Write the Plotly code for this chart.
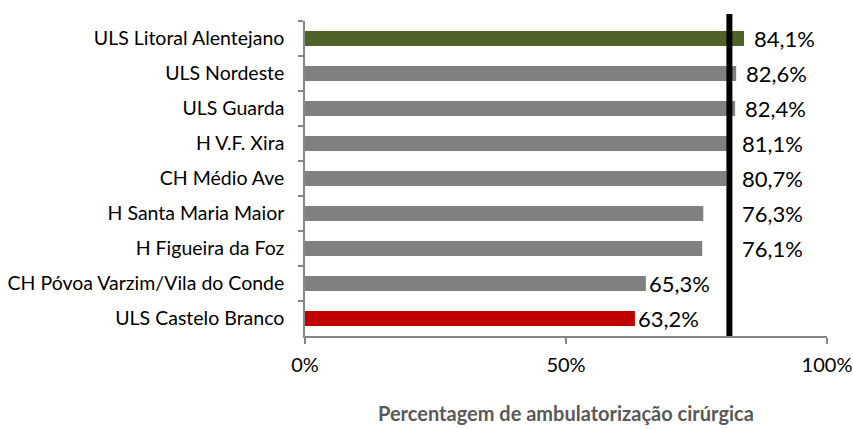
import plotly.graph_objects as go

categories = [
    "ULS Litoral Alentejano",
    "ULS Nordeste",
    "ULS Guarda",
    "H V.F. Xira",
    "CH Médio Ave",
    "H Santa Maria Maior",
    "H Figueira da Foz",
    "CH Póvoa Varzim/Vila do Conde",
    "ULS Castelo Branco",
]
values = [84.1, 82.6, 82.4, 81.1, 80.7, 76.3, 76.1, 65.3, 63.2]
value_labels = ["84,1%", "82,6%", "82,4%", "81,1%", "80,7%", "76,3%", "76,1%", "65,3%", "63,2%"]
reference_value = 81.3
tick_values = [0, 50, 100]
tick_labels = ["0%", "50%", "100%"]
axis_title = "Percentagem de ambulatorização cirúrgica"

GREEN = "#4F6228"
GRAY = "#808080"
RED = "#C00000"
colors = [GREEN] + [GRAY] * (len(values) - 2) + [RED]

FONT = "Lato, 'Open Sans', sans-serif"

fig = go.Figure()
fig.add_trace(go.Bar(
    x=values,
    y=categories,
    orientation="h",
    marker=dict(color=colors, line=dict(width=0)),
    hoverinfo="skip",
))

annotations = []
for cat, v, lab in zip(categories, values, value_labels):
    if v >= reference_value:
        ax, shift = v, 8
    elif reference_value - v < 10:
        ax, shift = reference_value, 11
    else:
        ax, shift = v, 1
    annotations.append(dict(
        x=ax, y=cat, xref="x", yref="y", text=lab, showarrow=False,
        xanchor="left", yanchor="middle", xshift=shift,
        font=dict(family=FONT, size=22, color="#000000"),
    ))

annotations.append(dict(
    x=0.5, y=0, xref="paper", yref="paper", yanchor="top", yshift=-63,
    text="<b>" + axis_title + "</b>", showarrow=False,
    font=dict(family=FONT, size=20, color="#595959"),
))

fig.add_shape(
    type="line", xref="x", yref="paper",
    x0=reference_value, x1=reference_value, y0=0, y1=1.022,
    line=dict(color="#000000", width=6),
)

fig.update_layout(
    width=853, height=429,
    margin=dict(l=305, r=26, t=21, b=93, autoexpand=False),
    paper_bgcolor="white", plot_bgcolor="white",
    bargap=0.57,
    showlegend=False,
    annotations=annotations,
    font=dict(family=FONT, size=19.5, color="#000000"),
)
fig.update_xaxes(
    range=[0, 100],
    tickvals=tick_values, ticktext=tick_labels,
    showgrid=False, zeroline=False,
    showline=True, linecolor="#868686", linewidth=1.5,
    ticks="outside", ticklen=6, tickcolor="#868686", tickwidth=1.5,
    ticklabelstandoff=4,
    tickfont=dict(family=FONT, size=20, color="#000000"),
    mirror=False,
)
fig.update_yaxes(
    categoryorder="array", categoryarray=categories,
    autorange="reversed",
    showgrid=False, zeroline=False,
    showline=True, linecolor="#868686", linewidth=1.5,
    ticks="outside", ticklen=5, tickcolor="#868686", tickwidth=1.5,
    tickson="boundaries",
    ticklabelstandoff=15,
    tickfont=dict(family=FONT, size=19.5, color="#000000"),
)

fig.write_html(
    "out.html",
    config={"displayModeBar": False},
    post_script="document.body.style.margin='0';document.body.style.overflow='hidden';",
)
